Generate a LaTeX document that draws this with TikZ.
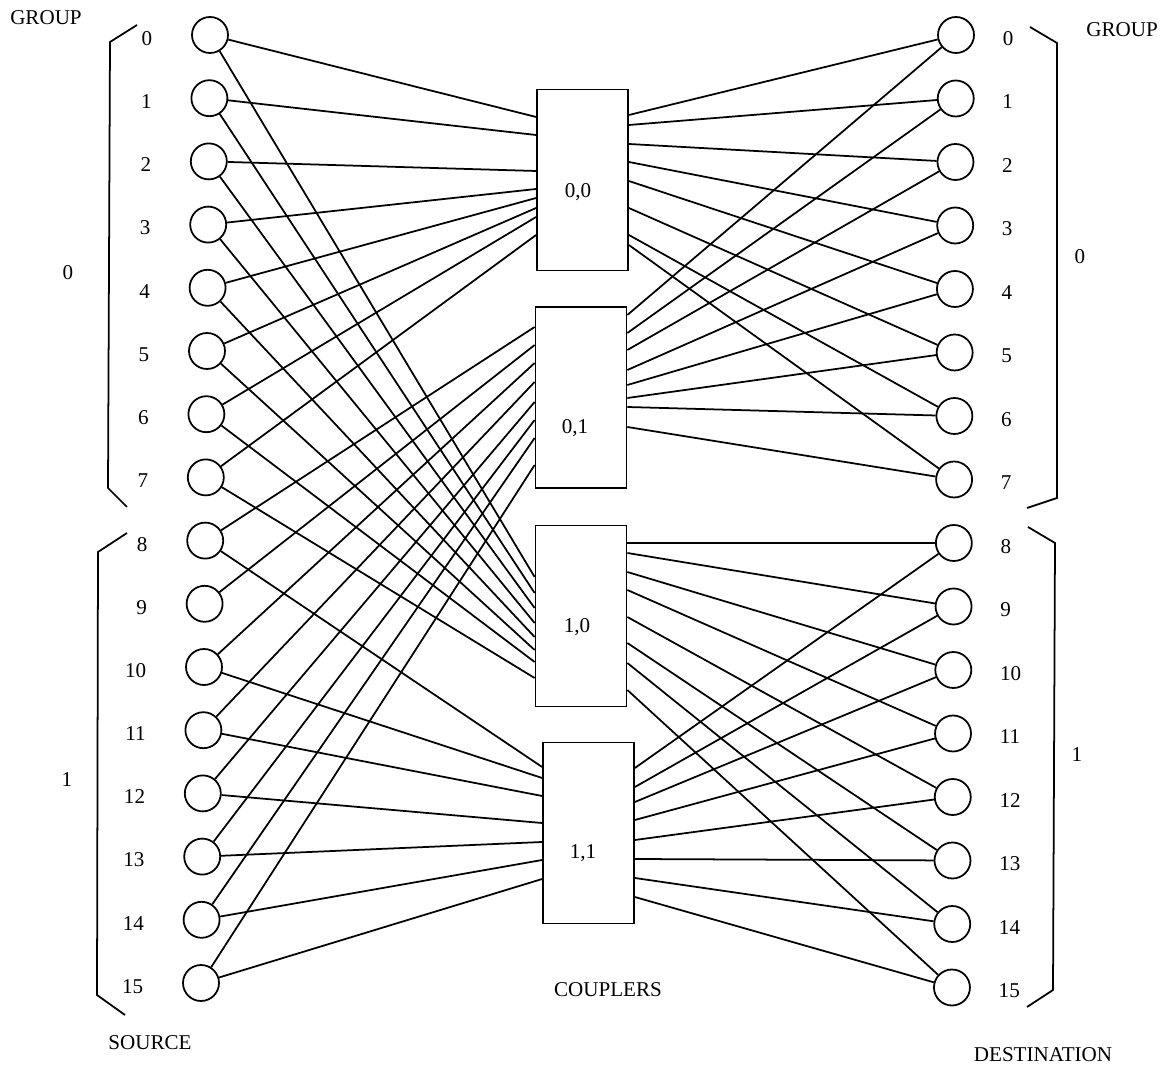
\documentclass[tikz,border=0pt]{standalone}
\usepackage{fontspec}
\setmainfont{Liberation Serif}
\usetikzlibrary{positioning}

\begin{document}
\begin{tikzpicture}[x=0.02cm, y=-0.02cm, line width=1pt,
    station/.style={circle, draw, minimum size=0.72cm, inner sep=0pt},
    coupler/.style={rectangle, draw, minimum width=1.82cm, minimum height=3.62cm, inner sep=0pt},
    num/.style={inner sep=0pt, font=\fontsize{12}{14}\selectfont},
    caption/.style={inner sep=0pt, font=\fontsize{12}{14}\selectfont}]

    \useasboundingbox (0,0) rectangle (1173,1070);

    % sources on the left, destinations on the right
    \foreach \i in {0,...,15} {
        \node [station] (s\i) at ({210-0.6*\i},{35+63.2*\i}) {};
        \node [station] (d\i) at ({956-0.27*\i},{35+63.5*\i}) {};
        \node [num, left=0.76cm of s\i, yshift=-2pt] (sl\i) {\i};
        \node [num, right=0.54cm of d\i, yshift=-2pt] (dl\i) {\i};
    }

    \node [coupler] (c00) at (582.5,180) {};
    \node [coupler] (c01) at (581,397.5) {};
    \node [coupler] (c10) at (581,616) {};
    \node [coupler] (c11) at (588.5,833) {};
    \node [caption] (c00t) at (578,192) {0,0};
    \node [caption] (c01t) at (575,428) {0,1};
    \node [caption] (c10t) at (577,627) {1,0};
    \node [caption] (c11t) at (583,853) {1,1};

    % group 0 sources
    \foreach \i/\a/\b in {0/117/577, 1/135/593, 2/171/608, 3/189/623, 4/198/637, 5/208/650, 6/217/662, 7/235/678} {
        \draw (s\i) -- (c00.west |- 0,\a);
        \draw (s\i) -- (c10.west |- 0,\b);
    }
    % group 1 sources
    \foreach \i/\a in {8/327, 9/345, 10/363, 11/382, 12/402, 13/420, 14/438, 15/465}
        \draw (s\i) -- (c01.west |- 0,\a);
    \foreach \i/\b in {8/767, 10/778, 11/796, 12/823, 13/842, 14/860, 15/879}
        \draw (s\i) -- (c11.west |- 0,\b);

    % destinations
    \foreach \i/\a/\b in {0/115/315, 1/125/333, 2/144/350, 3/162/370, 4/181/385, 5/208/398, 6/235/407, 7/245/427} {
        \draw (c00.east |- 0,\a) -- (d\i);
        \draw (c01.east |- 0,\b) -- (d\i);
    }
    \foreach \i/\a/\b in {8/543/768, 9/553/787, 10/572/802, 11/590/820, 12/617/840, 13/643/859, 14/663/878, 15/690/897} {
        \draw (c10.east |- 0,\a) -- (d\i);
        \draw (c11.east |- 0,\b) -- (d\i);
    }

    % group brackets
    \draw (137,25) -- (110,42) -- (108,488) -- (127,507);
    \draw (127,533) -- (98,552) -- (97,995) -- (125,1015);
    \draw (1030,27) -- (1057,43) -- (1057,498) -- (1027,508);
    \draw (1028,527) -- (1055,543) -- (1053,990) -- (1027,1007);

    \node [caption] (sg0) at (68,273) {0};
    \node [caption] (sg1) at (67,780) {1};
    \node [caption] (dg0) at (1080,257) {0};
    \node [caption] (dg1) at (1077,755) {1};

    \node [caption] (sgroup) at (46,18) {GROUP};
    \node [caption] (dgroup) at (1122,30) {GROUP};
    \node [caption] (source) at (150,1043) {SOURCE};
    \node [caption] (dest) at (1043,1055) {DESTINATION};
    \node [caption] (couplers) at (608,990) {COUPLERS};
\end{tikzpicture}
\end{document}
